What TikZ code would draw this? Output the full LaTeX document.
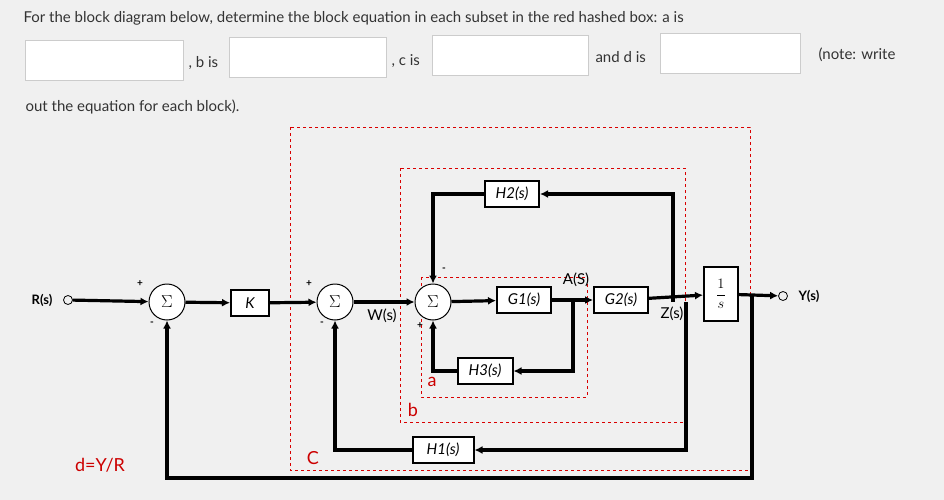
\documentclass[tikz,border=0pt]{standalone}
\usepackage{fontspec}
\setmainfont{Lato}
\usetikzlibrary{arrows.meta}
\begin{document}
\begin{tikzpicture}[x=1pt,y=-1pt,
  blk/.style={draw,line width=2pt,fill=white,minimum width=#1,minimum height=26pt,inner sep=1pt,font=\rmfamily\itshape\fontsize{15}{18}\selectfont},
  blk/.default={50pt},
  sum/.style={draw,circle,line width=1pt,fill=white,minimum size=36pt,inner sep=0pt,font=\fontsize{18}{20}\selectfont},
  ln/.style={line width=3.2pt,-{Latex[length=8pt,width=8pt]}},
  rbox/.style={draw=red!85!black,dashed,line width=0.9pt},
  ibox/.style={draw=gray!40,fill=white,minimum width=#1,minimum height=40pt},
  txt/.style={font=\fontsize{15}{18}\selectfont,text=black!80},
  lab/.style={text=red!80!black,font=\fontsize{18}{20}\selectfont}]
\useasboundingbox[fill=gray!12] (0,0) rectangle (944,500);
% question text
\node[txt,anchor=west] (q1) at (20,18) {For the block diagram below, determine the block equation in each subset in the red hashed box: a is};
\node[ibox=158pt] (ia) at (104,60) {};
\node[txt,anchor=west] (tb) at (185,63) {, b is};
\node[ibox=157pt] (ib) at (308,57) {};
\node[txt,anchor=west] (tc) at (388,61) {, c is};
\node[ibox=156pt] (ic) at (510,55) {};
\node[txt,anchor=west] (td) at (592,57) {and d is};
\node[ibox=140pt] (id) at (730,53) {};
\node[txt,anchor=west] (tn) at (815,55) {(note: write};
\node[txt,anchor=west] (q2) at (22,107) {out the equation for each block).};
% red boxes
\draw[rbox] (290,127) rectangle (750,470);
\draw[rbox] (400,168) rectangle (685,422);
\draw[rbox] (421,277) rectangle (587,397);
\node[lab] (la) at (432,382) {a};
\node[lab] (lb) at (413,410) {b};
\node[lab] (lc) at (313,458) {C};
\node[lab] (ld) at (100,465) {d=Y/R};
% nodes
\node[font=\bfseries\fontsize{13}{15}\selectfont] (R) at (42,300) {R(s)};
\node[draw,circle,minimum size=9pt,inner sep=0pt,line width=0.8pt] (rin) at (68,300) {};
\node[sum] (s1) at (167,302) {$\Sigma$};
\node[blk=38pt] (K) at (250,303) {K};
\node[sum] (s2) at (335,302) {$\Sigma$};
\node[sum] (s3) at (433,302) {$\Sigma$};
\node[blk=54pt] (G1) at (524,300) {G1(s)};
\node[blk=54pt] (G2) at (621,300) {G2(s)};
\node[draw,line width=2pt,fill=white,minimum width=34pt,minimum height=54pt,inner sep=0pt,font=\rmfamily\fontsize{15}{18}\selectfont] (I) at (721,294) {$\displaystyle\frac{1}{s}$};
\node[draw,circle,minimum size=9pt,inner sep=0pt,line width=0.8pt] (yout) at (783,296) {};
\node[font=\bfseries\fontsize{13}{15}\selectfont,anchor=west] (Y) at (795,296) {Y(s)};
\node[blk=54pt] (H2) at (512,194) {H2(s)};
\node[blk=55pt] (H3) at (485,371) {H3(s)};
\node[blk=61pt] (H1) at (443,450) {H1(s)};
\node[font=\rmfamily\fontsize{15}{18}\selectfont] (W) at (382,316) {W(s)};
\node[font=\rmfamily\fontsize{15}{18}\selectfont] (A) at (576,280) {A(S)};
\node[font=\rmfamily\fontsize{15}{18}\selectfont] (Z) at (672,314) {Z(s)};
% signs
\node[font=\normalsize\bfseries] (p1) at (140,284) {+};
\node[font=\normalsize\bfseries] (m1) at (152,324) {-};
\node[font=\normalsize\bfseries] (p2) at (309,284) {+};
\node[font=\normalsize\bfseries] (m2) at (322,324) {-};
\node[font=\normalsize\bfseries] (m3) at (444,270) {-};
\node[font=\normalsize\bfseries] (p3) at (420,326) {+};
% coordinates
\coordinate (bA) at (573,302);
\coordinate (bZ) at (673,302);
\coordinate (bH1) at (686,302);
\coordinate (bY) at (752,296);
% main path
\draw[ln] (rin) -- (s1);
\draw[ln] (s1) -- (K);
\draw[ln] (K) -- (s2);
\draw[ln] (s2) -- (s3);
\draw[ln] (s3) -- (G1);
\draw[ln] (G1) -- (G2);
\draw[ln] (G2) -- (I);
\draw[ln] (I) -- (yout);
% H2 loop
\draw[ln] (bZ) |- (H2);
\draw[ln] (H2) -| (s3);
% H3 loop
\draw[ln] (bA) |- (H3);
\draw[ln] (H3) -| (s3);
% H1 loop
\draw[ln] (bH1) |- (H1);
\draw[ln] (H1) -| (s2);
% outer loop
\coordinate (bot) at (752,478);
\draw[ln] (bY) -- (bot) -| (s1);
\end{tikzpicture}
\end{document}
